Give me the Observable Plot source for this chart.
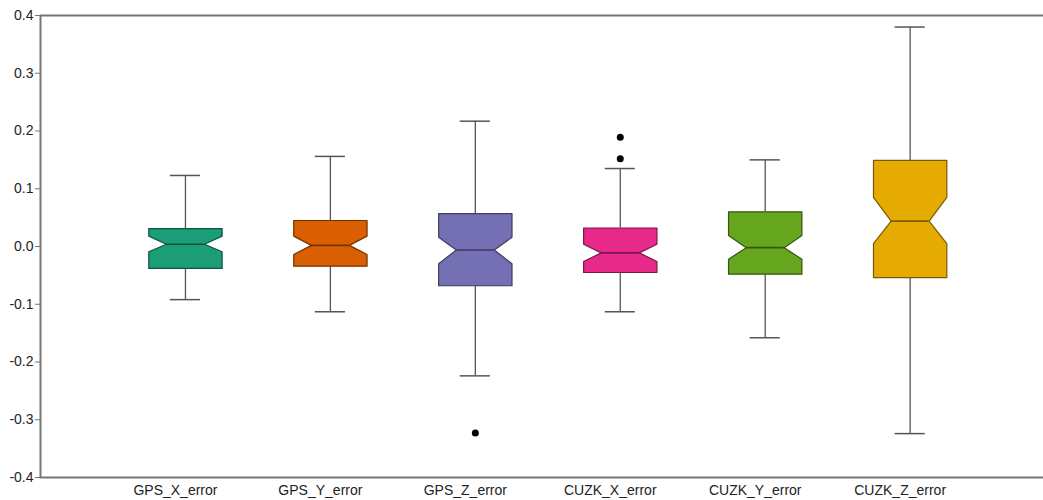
<!DOCTYPE html>
<html>
<head>
<meta charset="utf-8">
<script src="https://cdn.jsdelivr.net/npm/d3@7"></script>
<script src="https://cdn.jsdelivr.net/npm/@observablehq/plot@0.6"></script>
<style>
  html, body { margin: 0; padding: 0; background: #fff; }
  #chart svg { display: block; }
</style>
</head>
<body>
<div id="chart"></div>
<script>
const categories = ["GPS_X_error", "GPS_Y_error", "GPS_Z_error", "CUZK_X_error", "CUZK_Y_error", "CUZK_Z_error"];
const whiskerLow  = [-0.092, -0.113, -0.224, -0.113, -0.158, -0.324];
const q1          = [-0.038, -0.034, -0.068, -0.045, -0.048, -0.054];
const median      = [ 0.004,  0.002, -0.006, -0.011, -0.002,  0.044];
const q3          = [ 0.031,  0.045,  0.057,  0.032,  0.060,  0.149];
const whiskerHigh = [ 0.123,  0.156,  0.217,  0.135,  0.150,  0.380];
const notchLow    = [-0.009, -0.014, -0.030, -0.026, -0.022,  0.005];
const notchHigh   = [ 0.018,  0.018,  0.016,  0.004,  0.019,  0.085];
const outlierCategory = ["GPS_Z_error", "CUZK_X_error", "CUZK_X_error"];
const outlierValue    = [-0.323, 0.189, 0.152];
const colors = ["#1b9e77", "#d95f02", "#7570b3", "#e7298a", "#66a61e", "#e6ab02"];
const yTicks = [0.4, 0.3, 0.2, 0.1, 0.0, -0.1, -0.2, -0.3, -0.4];

// layout constants (in x band units)
const HW = 0.253, INSET = 0.122, CAP = 0.104;

const polys = [];
categories.forEach((c, i) => {
  const L = i - HW, R = i + HW;
  const fill = colors[i], stroke = d3.color(colors[i]).darker(1.8).formatHex();
  const pts = [
    [L, q3[i]], [R, q3[i]], [R, notchHigh[i]], [R - INSET, median[i]], [R, notchLow[i]],
    [R, q1[i]], [L, q1[i]], [L, notchLow[i]], [L + INSET, median[i]], [L, notchHigh[i]], [L, q3[i]]
  ];
  pts.forEach(([x, y]) => polys.push({cat: c, x, y, fill, stroke}));
});
const stats = categories.map((c, i) => ({
  i, cat: c, lo: whiskerLow[i], q1: q1[i], med: median[i], q3: q3[i], hi: whiskerHigh[i],
  stroke: d3.color(colors[i]).darker(1.8).formatHex()
}));
const outliers = outlierCategory.map((c, k) => ({x: categories.indexOf(c), y: outlierValue[k]}));

const axisColor = "#767676";
const chart = Plot.plot({
  width: 1043,
  height: 500,
  marginLeft: 40,
  marginRight: 0,
  marginTop: 15,
  marginBottom: 23,
  style: {fontFamily: "Liberation Sans, Arial, sans-serif", fontSize: "14px", color: "#222", background: "#fff"},
  x: {domain: [-1, 5.92], axis: null},
  y: {domain: [-0.4, 0.4], axis: null},
  color: {type: "identity"},
  marks: [
    // whiskers
    Plot.ruleX(stats, {x: "i", y1: "q3", y2: "hi", stroke: "#555", strokeWidth: 1.3}),
    Plot.ruleX(stats, {x: "i", y1: "lo", y2: "q1", stroke: "#555", strokeWidth: 1.3}),
    Plot.ruleY(stats, {y: "hi", x1: d => d.i - CAP, x2: d => d.i + CAP, stroke: "#555", strokeWidth: 1.5}),
    Plot.ruleY(stats, {y: "lo", x1: d => d.i - CAP, x2: d => d.i + CAP, stroke: "#555", strokeWidth: 1.5}),
    // notched boxes
    Plot.line(polys, {x: "x", y: "y", z: "cat", fill: "fill", stroke: "stroke", strokeWidth: 1.2, curve: "linear"}),
    // medians
    Plot.ruleY(stats, {y: "med", x1: d => d.i - HW + INSET, x2: d => d.i + HW - INSET, stroke: "stroke", strokeWidth: 1.6}),
    // outliers
    Plot.dot(outliers, {x: "x", y: "y", r: 3.5, fill: "#000", stroke: "none"}),
    // frame
    Plot.ruleY([0.4, -0.4], {stroke: axisColor, strokeWidth: 2}),
    Plot.ruleX([-1], {stroke: axisColor, strokeWidth: 2}),
    Plot.axisY({ticks: yTicks, tickFormat: d => d.toFixed(1), tickSize: 5, tickPadding: 2, stroke: axisColor, fill: "#222", fontSize: 14, label: null}),
    Plot.axisX({ticks: d3.range(categories.length), tickFormat: i => categories[i], tickSize: 0, tickPadding: 8, dx: -10, fill: "#222", fontSize: 14, label: null})
  ]
});
document.getElementById("chart").appendChild(chart);
</script>
</body>
</html>
